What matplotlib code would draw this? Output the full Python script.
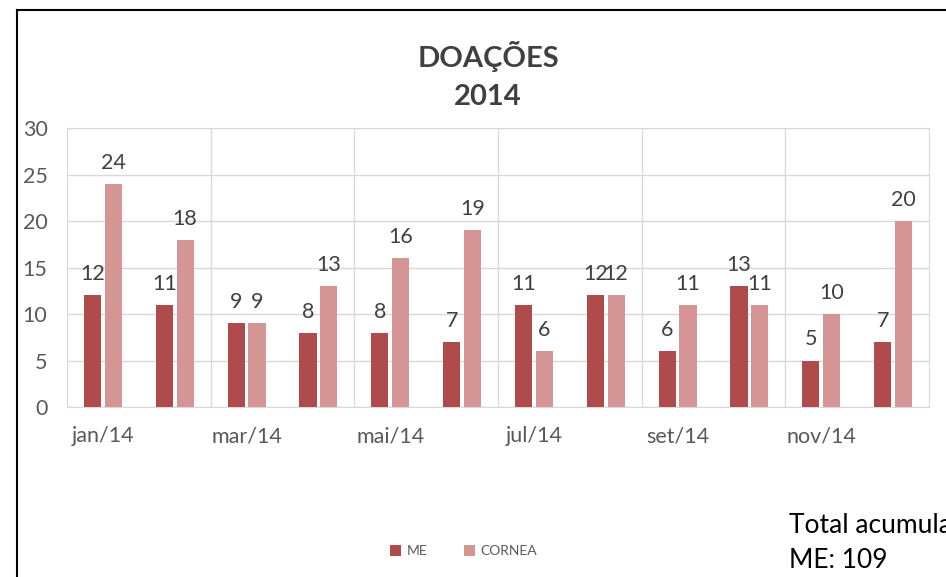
import matplotlib.pyplot as plt
import numpy as np

plt.rcParams["font.family"] = ["Lato", "DejaVu Sans"]

months = ["jan/14", "fev/14", "mar/14", "abr/14", "mai/14", "jun/14",
          "jul/14", "ago/14", "set/14", "out/14", "nov/14", "dez/14"]
me = [12, 11, 9, 8, 8, 7, 11, 12, 6, 13, 5, 7]
cornea = [24, 18, 9, 13, 16, 19, 6, 12, 11, 11, 10, 20]

ME_COLOR = "#B04B4B"
CO_COLOR = "#D69595"

fig = plt.figure(figsize=(9.46, 5.77), dpi=100)
ax = fig.add_axes([0.0708, 0.2946, 0.9112, 0.4834])

x = np.arange(len(months))
w = 0.24
off = 0.145
b1 = ax.bar(x - off, me, w, color=ME_COLOR, label="ME", zorder=3)
b2 = ax.bar(x + off, cornea, w, color=CO_COLOR, label="CORNEA", zorder=3)
for bars in (b1, b2):
    ax.bar_label(bars, padding=8, fontsize=15.5, color="#404040")

ax.set_xlim(-0.5, 11.5)
ax.set_ylim(0, 30)
ax.set_yticks(range(0, 31, 5))
ax.set_xticks(x[::2])
ax.set_xticklabels(months[::2])
ax.tick_params(length=0, labelsize=15.5, labelcolor="#595959")
ax.tick_params(axis="y", pad=14)
ax.tick_params(axis="x", pad=14)
ax.grid(axis="y", color="#D9D9D9", lw=1, zorder=0)
for gx in np.arange(1.5, 11, 2):
    ax.axvline(gx, color="#D9D9D9", lw=1, zorder=0)
for s in ax.spines.values():
    s.set_color("#D9D9D9")

fig.text(0.516, 0.902, "DOAÇÕES", ha="center", va="center",
         fontsize=21, fontweight="bold", color="#404040")
fig.text(0.516, 0.832, "2014", ha="center", va="center",
         fontsize=21, fontweight="bold", color="#404040")

leg = fig.legend(handles=[b1, b2], loc="center", bbox_to_anchor=(0.49, 0.045),
                 ncol=2, frameon=False, fontsize=10, handlelength=0.8,
                 handleheight=0.8, handletextpad=0.4, columnspacing=2.6)
for t in leg.get_texts():
    t.set_color("#595959")

# side note, cut off by the right edge as in the screenshot
fig.text(0.834, 0.09, "Total acumulado", fontsize=19, color="black", va="center")
fig.text(0.834, 0.029, "ME: 109", fontsize=19, color="black", va="center")

# outer frame (left and top edges of the screenshot)
fig.add_artist(plt.Line2D([0.018, 0.018], [0, 0.983], color="black", lw=1.5,
                          transform=fig.transFigure))
fig.add_artist(plt.Line2D([0.018, 1.0], [0.983, 0.983], color="black", lw=1.5,
                          transform=fig.transFigure))

fig.savefig("out.png", dpi=100)
